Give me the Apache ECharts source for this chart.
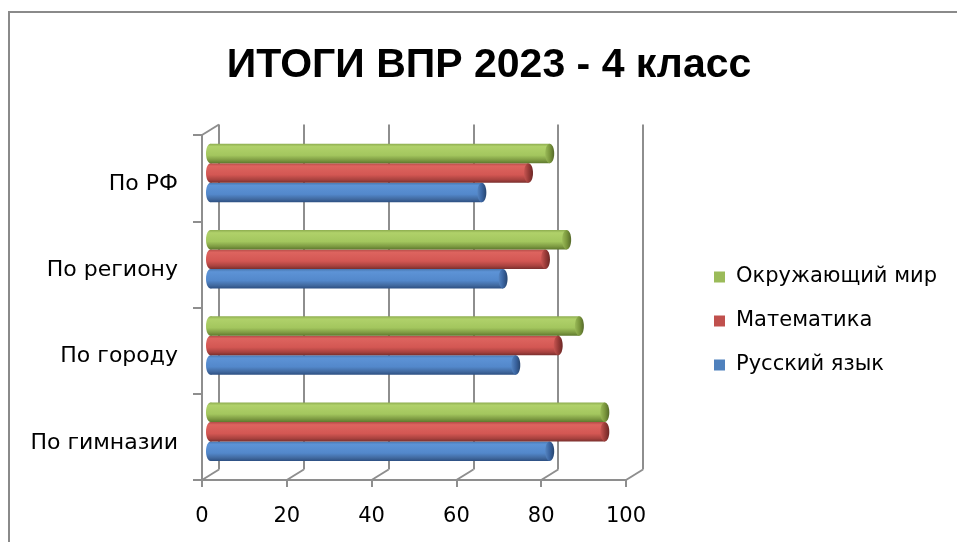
<!DOCTYPE html>
<html>
<head>
<meta charset="utf-8">
<script src="https://cdn.jsdelivr.net/npm/echarts@6/dist/echarts.min.js"></script>
<style>
  html, body { margin: 0; padding: 0; background: #fff; }
  #chart { width: 957px; height: 542px; }
</style>
</head>
<body>
<div id="chart"></div>
<script>
// data (category order bottom -> top, as ECharts draws a category y axis)
var categories = ['По гимназии', 'По городу', 'По региону', 'По РФ'];
var seriesNames = ['Русский язык', 'Математика', 'Окружающий мир'];
var russian = [80, 72, 69, 64];
var math = [93, 82, 79, 75];
var world = [93, 87, 84, 80];
var xTicks = [0, 20, 40, 60, 80, 100];

// layout: front plane of the 3D box, depth shift to the back wall
var FRONT = { left: 202, top: 135, width: 424, height: 345 };
var DX = 17, DY = 10.5;
var BAR_H = 19.5;
var AXIS_GRAY = '#8e8e8e';

function shifted(k) {
  return {
    left: FRONT.left + DX * k,
    top: FRONT.top - DY * k,
    width: FRONT.width,
    height: FRONT.height
  };
}

var shades = {
  'Русский язык': {
    body: ['#4876ae', '#5d93d6', '#5388cb', '#41699f', '#2d5083'],
    cap: ['#5585c2', '#3a64a0', '#27456f']
  },
  'Математика': {
    body: ['#b14a46', '#dd645f', '#d35753', '#a8423f', '#7c302e'],
    cap: ['#c95652', '#9a3b38', '#6b2725']
  },
  'Окружающий мир': {
    body: ['#8cab4e', '#b0d16a', '#a3c65e', '#7d9a42', '#5f7a2e'],
    cap: ['#9aba58', '#7b983d', '#55692a']
  }
};
var baseColors = { 'Русский язык': '#4F81BD', 'Математика': '#C0504D', 'Окружающий мир': '#9BBB59' };

function vgrad(c) {
  return new echarts.graphic.LinearGradient(0, 0, 0, 1, [
    { offset: 0, color: c[0] },
    { offset: 0.15, color: c[1] },
    { offset: 0.6, color: c[2] },
    { offset: 0.85, color: c[3] },
    { offset: 1, color: c[4] }
  ]);
}
function capGrad(c) {
  return new echarts.graphic.LinearGradient(0, 0, 1, 0, [
    { offset: 0, color: c[0] },
    { offset: 0.5, color: c[1] },
    { offset: 1, color: c[2] }
  ]);
}

var slot = [1, 0, -1]; // blue lowest, green on top

function cylinder(params, api) {
  var name = seriesNames[params.seriesIndex];
  var cat = api.value(1), val = api.value(0);
  var p0 = api.coord([0, cat]);
  var p1 = api.coord([val, cat]);
  var cy = p0[1] + slot[params.seriesIndex] * BAR_H;
  var s = shades[name];
  var rx = 4.5, ry = BAR_H / 2;
  return {
    type: 'group',
    children: [
      { type: 'ellipse', shape: { cx: p0[0], cy: cy, rx: rx, ry: ry }, style: { fill: vgrad(s.body) } },
      { type: 'rect', shape: { x: p0[0], y: cy - ry, width: p1[0] - p0[0], height: BAR_H }, style: { fill: vgrad(s.body) } },
      { type: 'ellipse', shape: { cx: p1[0], cy: cy, rx: rx, ry: ry }, style: { fill: capGrad(s.cap) } }
    ]
  };
}

function depthLine(params, api) {
  var p = api.coord([api.value(0), api.value(1)]);
  return {
    type: 'line',
    shape: { x1: p[0], y1: p[1], x2: p[0] - DX, y2: p[1] + DY },
    style: { stroke: AXIS_GRAY, lineWidth: 2 }
  };
}

function barData(arr) {
  return arr.map(function (v, i) { return [v, i]; });
}

var depthData = xTicks.map(function (v) { return [v, 0]; });
depthData.push([0, 1]);

var chart = echarts.init(document.getElementById('chart'));
chart.setOption({
  animation: false,
  backgroundColor: '#fff',
  title: {
    text: 'ИТОГИ ВПР 2023 - 4 класс',
    left: 484,
    top: 40,
    textAlign: 'center',
    textStyle: { fontFamily: "'Liberation Sans', Arial, sans-serif", fontSize: 41, fontWeight: 'bold', color: '#000' }
  },
  legend: {
    orient: 'vertical',
    left: 709,
    top: 261,
    itemWidth: 11,
    itemHeight: 11,
    itemGap: 22,
    icon: 'rect',
    data: ['Окружающий мир', 'Математика', 'Русский язык'],
    textStyle: { fontFamily: 'DejaVu Sans', fontSize: 21, color: '#000', lineHeight: 22, padding: [0, 0, 0, 6] }
  },
  graphic: [{
    type: 'rect',
    shape: { x: 9, y: 12, width: 1000, height: 600 },
    style: { fill: 'none', stroke: '#8a8a8a', lineWidth: 2 },
    silent: true
  }],
  grid: [
    Object.assign({ containLabel: false }, FRONT),
    Object.assign({ containLabel: false }, shifted(1)),
    Object.assign({ containLabel: false }, shifted(0.5))
  ],
  xAxis: [
    {
      gridIndex: 0, type: 'value', min: 0, max: 100, interval: 20,
      axisLine: { show: true, lineStyle: { color: AXIS_GRAY, width: 2 } },
      axisTick: { show: true, length: 7, lineStyle: { color: AXIS_GRAY, width: 2 } },
      splitLine: { show: false },
      axisLabel: { fontFamily: 'DejaVu Sans', fontSize: 21, color: '#000', margin: 26 }
    },
    {
      gridIndex: 1, type: 'value', min: 0, max: 100, interval: 20,
      axisLine: { show: false }, axisTick: { show: false }, axisLabel: { show: false },
      splitLine: { show: true, lineStyle: { color: AXIS_GRAY, width: 2 } }
    },
    {
      gridIndex: 2, type: 'value', min: 0, max: 100, show: false
    }
  ],
  yAxis: [
    {
      gridIndex: 0, type: 'category', data: categories,
      axisLine: { show: true, lineStyle: { color: AXIS_GRAY, width: 2 } },
      axisTick: { show: true, length: 9, lineStyle: { color: AXIS_GRAY, width: 2 } },
      axisLabel: { fontFamily: 'DejaVu Sans', fontSize: 22, color: '#000', margin: 24, verticalAlign: 'top', lineHeight: 12 }
    },
    {
      gridIndex: 1, type: 'value', min: 0, max: 1, show: false, splitLine: { show: false }
    },
    {
      gridIndex: 2, type: 'category', data: categories, show: false
    }
  ],
  series: [
    { name: seriesNames[0], type: 'custom', xAxisIndex: 2, yAxisIndex: 2, renderItem: cylinder, data: barData(russian), itemStyle: { color: baseColors[seriesNames[0]] }, encode: { x: 0, y: 1 }, z: 5 },
    { name: seriesNames[1], type: 'custom', xAxisIndex: 2, yAxisIndex: 2, renderItem: cylinder, data: barData(math), itemStyle: { color: baseColors[seriesNames[1]] }, encode: { x: 0, y: 1 }, z: 5 },
    { name: seriesNames[2], type: 'custom', xAxisIndex: 2, yAxisIndex: 2, renderItem: cylinder, data: barData(world), itemStyle: { color: baseColors[seriesNames[2]] }, encode: { x: 0, y: 1 }, z: 5 },
    { name: 'depth', type: 'custom', xAxisIndex: 1, yAxisIndex: 1, renderItem: depthLine, data: depthData, silent: true, z: 1 }
  ]
});
</script>
</body>
</html>
